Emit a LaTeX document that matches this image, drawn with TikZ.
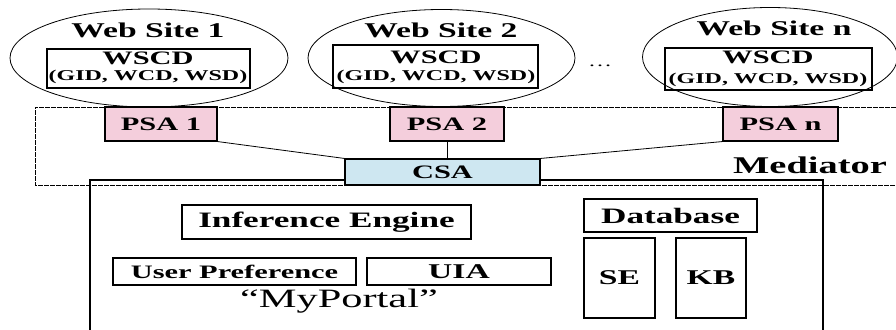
\documentclass[tikz,border=0pt]{standalone}
\usepackage{fontspec}
\setmainfont{Liberation Serif}[FakeStretch=1.6]
\usetikzlibrary{shapes.geometric}

\definecolor{psapink}{RGB}{244,206,220}
\definecolor{csablue}{RGB}{206,231,241}

\tikzset{
  site/.style={ellipse, draw, line width=0.8pt, inner sep=0pt},
  box/.style={draw, line width=1.1pt, inner sep=0pt},
  txt/.style={font=\bfseries\fontsize{#1}{#1}\selectfont, inner sep=0pt},
  agent/.style={box, minimum height=34pt, font=\bfseries\fontsize{19}{19}\selectfont},
}

\begin{document}
\begin{tikzpicture}[x=1pt,y=-1pt]
\useasboundingbox (0,0) rectangle (896,329);

% mediator layer and the portal frame
\draw[dash pattern=on 5pt off 1pt, line width=1pt] (896,107) -- (35,107) -- (35,185) -- (896,185);
\draw[line width=2.2pt] (90,335) -- (90,180) -- (823,180) -- (823,335);

% web sites
\node[site, minimum width=278pt, minimum height=98pt] (site1) at (149,58) {};
\node[site, minimum width=267pt, minimum height=97pt] (site2) at (441.5,58) {};
\node[site, minimum width=255pt, minimum height=99pt] (siten) at (770,57) {};
\node[txt=21] (title1) at (148,30) {Web Site 1};
\node[txt=21] (title2) at (441,30) {Web Site 2};
\node[txt=21] (titlen) at (774,28) {Web Site n};

\node[box, minimum width=203pt, minimum height=39pt] (wscd1) at (148.5,68.5) {};
\node[box, minimum width=205pt, minimum height=43pt] (wscd2) at (435.5,66.5) {};
\node[box, minimum width=207pt, minimum height=42pt] (wscdn) at (768.5,69) {};
\node[txt=19] (name1) at (148,58) {WSCD};
\node[txt=19] (name2) at (436,57) {WSCD};
\node[txt=19] (namen) at (768,57) {WSCD};
\node[txt=15] (ids1) at (148,77) {(GID, WCD, WSD)};
\node[txt=15] (ids2) at (436,77) {(GID, WCD, WSD)};
\node[txt=15] (idsn) at (768,80) {(GID, WCD, WSD)};
\node[inner sep=0pt, font=\fontsize{15}{15}\selectfont] (dots) at (600,66) {\dots};

% agents
\node[agent, fill=psapink, minimum width=112pt] (psa1) at (161,124) {PSA 1};
\node[agent, fill=psapink, minimum width=114pt] (psa2) at (447,124) {PSA 2};
\node[agent, fill=psapink, minimum width=115pt] (psan) at (780.5,124) {PSA n};
\node[agent, fill=csablue, minimum width=195pt, minimum height=26pt] (csa) at (442.5,172) {CSA};
\draw[line width=0.8pt] (psa1.south east) -- (csa.north west);
\draw[line width=0.8pt] (psa2.south) -- (psa2.south |- csa.north);
\draw[line width=0.8pt] (psan.south west) -- (csa.north east);
\node[txt=24] (mediator) at (810,165) {Mediator};

% MyPortal
\node[box, txt=22, minimum width=289pt, minimum height=34pt] (engine) at (326.5,222) {Inference Engine};
\node[box, txt=19, minimum width=243pt, minimum height=27pt] (pref) at (234.5,271.5) {User Preference};
\node[box, txt=21, minimum width=184pt, minimum height=27pt] (uia) at (459,271.5) {UIA};
\node[inner sep=0pt, font=\fontsize{26.5}{26.5}\selectfont] (portal) at (339,301) {“MyPortal”};
\node[box, txt=22, minimum width=173pt, minimum height=33pt] (db) at (670.5,215.5) {Database};
\node[box, txt=21, minimum width=71pt, minimum height=80pt] (se) at (619.5,278) {SE};
\node[box, txt=21, minimum width=70pt, minimum height=80pt] (kb) at (711,278) {KB};
\end{tikzpicture}
\end{document}
